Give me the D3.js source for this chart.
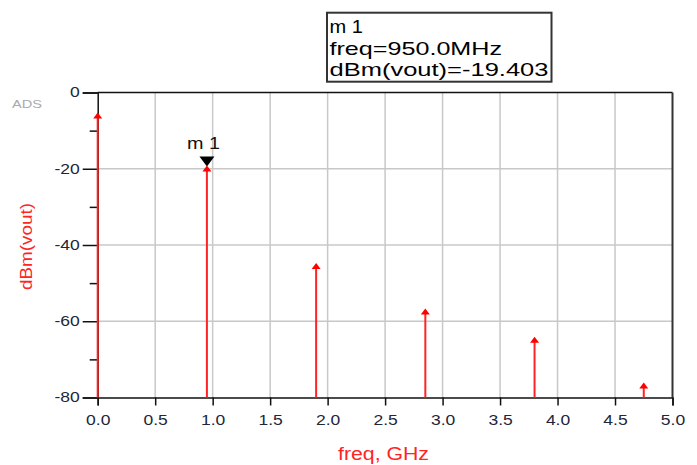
<!DOCTYPE html>
<html><head><meta charset="utf-8">
<script src="https://cdn.jsdelivr.net/npm/d3@7"></script>
<style>body{margin:0;background:#fff;} svg{font-family:"Liberation Sans",Arial,sans-serif;}</style>
</head><body>
<svg id="c" width="697" height="465"></svg>
<script>
const freqs = [0, 0.95, 1.9, 2.85, 3.8, 4.75];          // GHz
const dbm   = [-5.5, -19.403, -45.0, -56.9, -64.3, -76.3];
const xTicks = [0,0.5,1,1.5,2,2.5,3,3.5,4,4.5,5];
const yMajor = [0,-20,-40,-60,-80];
const yMinor = [-10,-30,-50,-70];
const markerLines = ["m 1","freq=950.0MHz","dBm(vout)=-19.403"];

const svg = d3.select("#c");
const L=97.7, R=672.5, T=92.5, B=397.5;
const x = d3.scaleLinear().domain([0,5]).range([L,R]);
const y = d3.scaleLinear().domain([-80,0]).range([B,T]);

function stretch(sel, k){
  sel.each(function(){
    const w=this.getComputedTextLength();
    d3.select(this).attr("textLength",w*k).attr("lengthAdjust","spacingAndGlyphs");
  });
}

// grid
svg.append("g").selectAll("line").data(xTicks.slice(1,-1)).join("line")
  .attr("x1",d=>x(d)).attr("x2",d=>x(d)).attr("y1",T).attr("y2",B)
  .attr("stroke","#c8c8c8").attr("stroke-width",1.5);
svg.append("g").selectAll("line").data(yMajor.slice(1,-1)).join("line")
  .attr("x1",L).attr("x2",R).attr("y1",d=>y(d)).attr("y2",d=>y(d))
  .attr("stroke","#c8c8c8").attr("stroke-width",1.5);

// frame
svg.append("line").attr("x1",L).attr("x2",R).attr("y1",T).attr("y2",T).attr("stroke","#111").attr("stroke-width",1.5);
svg.append("line").attr("x1",R).attr("x2",R).attr("y1",T).attr("y2",B).attr("stroke","#333").attr("stroke-width",2);

// axes
const xAxis = d3.axisBottom(x).tickValues(xTicks).tickFormat(d3.format(".1f")).tickSize(8).tickPadding(10);
const gx = svg.append("g").attr("transform",`translate(0,${B})`).call(xAxis);
const yAxis = d3.axisLeft(y).tickValues(yMajor).tickFormat(d=>d).tickSize(15).tickPadding(3);
const gy = svg.append("g").attr("transform",`translate(${L},0)`).call(yAxis);
svg.append("g").attr("transform",`translate(${L},0)`)
  .call(d3.axisLeft(y).tickValues(yMinor).tickFormat("").tickSize(8))
  .select(".domain").remove();
[gx,gy].forEach(g=>{
  g.select(".domain").attr("stroke","#111").attr("stroke-width",1.5);
  g.selectAll("text").attr("font-size",14).attr("fill","#22263a").attr("font-family","Liberation Sans, Arial, sans-serif");
  stretch(g.selectAll("text"),1.25);
});
svg.selectAll(".tick line").attr("stroke","#111").attr("stroke-width",1.5);

// stems
const data = freqs.map((f,i)=>({f,v:dbm[i]}));
svg.append("g").selectAll("line").data(data).join("line")
  .attr("x1",d=>x(d.f)).attr("x2",d=>x(d.f)).attr("y1",B).attr("y2",d=>y(d.v)+3)
  .attr("stroke","#ff2424").attr("stroke-width",2);
svg.append("g").selectAll("path").data(data).join("path")
  .attr("d",d=>{const cx=x(d.f),cy=y(d.v);return `M${cx-4.5},${cy+5}L${cx},${cy-1}L${cx+4.5},${cy+5}Z`;})
  .attr("fill","#ff0000");

// marker m1
const mf=freqs[1], mv=dbm[1];
svg.append("path").attr("d",()=>{const cx=x(mf),cy=y(mv);return `M${cx-7.5},${cy-10}L${cx+7.5},${cy-10}L${cx},${cy}Z`;})
  .attr("fill","#000");
svg.append("text").attr("x",x(mf)-20).attr("y",y(mv)-17.5)
  .attr("font-size",17).attr("fill","#111").attr("textLength",33).attr("lengthAdjust","spacingAndGlyphs").text("m 1");

// marker readout box
svg.append("rect").attr("x",327).attr("y",12.7).attr("width",224.5).attr("height",69)
  .attr("fill","#fff").attr("stroke","#333").attr("stroke-width",2);
const boxW=[33.4,172.5,219];
svg.append("g").selectAll("text").data(markerLines).join("text")
  .attr("x",329.5).attr("y",(d,i)=>33.3+i*21.3).attr("font-size",18.5).attr("fill","#000")
  .attr("textLength",(d,i)=>boxW[i]).attr("lengthAdjust","spacingAndGlyphs").text(d=>d);

// labels
svg.append("text").attr("x",12).attr("y",107.5).attr("font-size",10.5).attr("fill","#aaa")
  .attr("textLength",30).attr("lengthAdjust","spacingAndGlyphs").text("ADS");
svg.append("text").attr("transform","translate(32,246.5) rotate(-90)").attr("text-anchor","middle")
  .attr("font-size",16).attr("fill","#ff2424").attr("textLength",87).attr("lengthAdjust","spacingAndGlyphs").text("dBm(vout)");
svg.append("text").attr("x",338).attr("y",459.5)
  .attr("font-size",18).attr("fill","#ff2424").attr("textLength",91).attr("lengthAdjust","spacingAndGlyphs").text("freq, GHz");
</script>
</body></html>
